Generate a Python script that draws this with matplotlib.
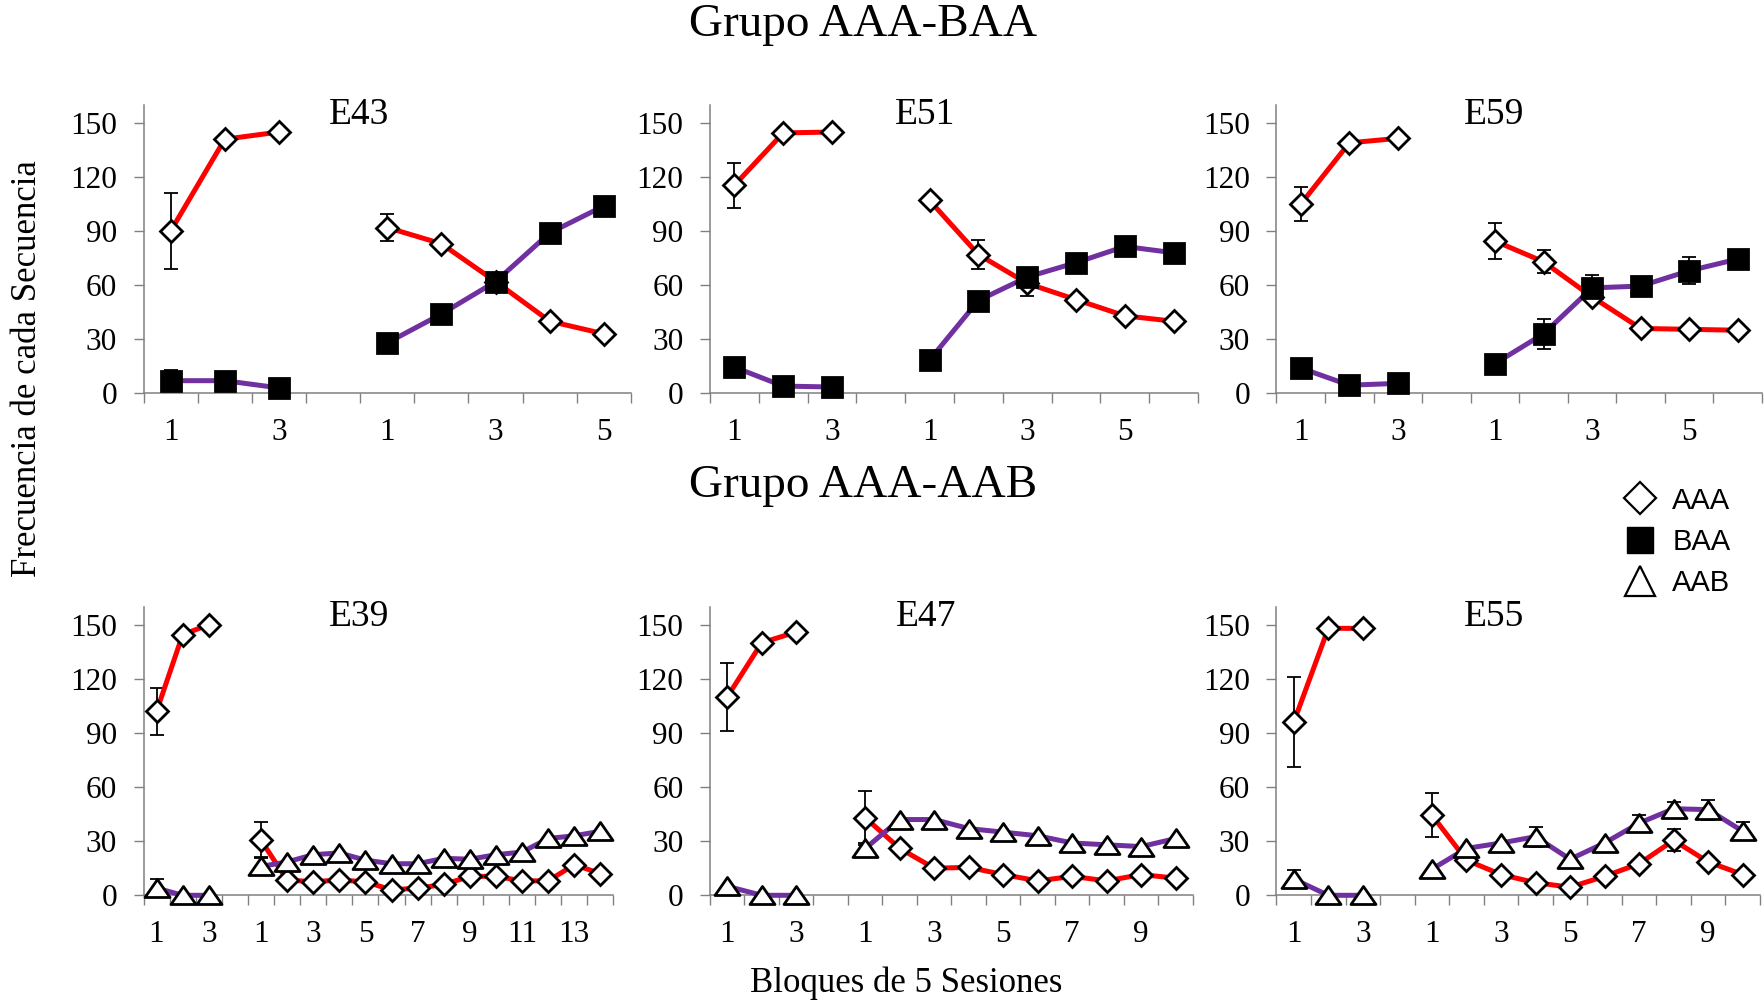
import numpy as np
import matplotlib
matplotlib.use('Agg')
import matplotlib.pyplot as plt
from matplotlib.lines import Line2D
from matplotlib.path import Path

plt.rcParams['font.family'] = ['Liberation Serif', 'DejaVu Serif']

RED = '#ff0000'
PURPLE = '#7030a0'

# ---- Grupo AAA-BAA ----
e43_aaa_base = [90, 141, 145]
e43_aaa_base_err = [21, 0, 0]
e43_baa_base = [7, 7, 3]
e43_baa_base_err = [6, 0, 0]
e43_aaa = [92, 83, 62, 40, 33]
e43_aaa_err = [7.5, 0, 0, 0, 0]
e43_baa = [28, 44, 62, 89, 104]
e43_baa_err = [0, 0, 0, 0, 0]

e51_aaa_base = [115.5, 144.5, 145]
e51_aaa_base_err = [12.5, 0, 0]
e51_baa_base = [14.5, 4, 3.5]
e51_baa_base_err = [0, 0, 0]
e51_aaa = [107, 77, 61, 52, 43, 40]
e51_aaa_err = [0, 8, 7, 0, 0, 0]
e51_baa = [18.5, 51.5, 64.5, 72.5, 81.5, 78]
e51_baa_err = [0, 0, 0, 0, 0, 0]

e59_aaa_base = [105, 139, 141.5]
e59_aaa_base_err = [9.5, 0, 0]
e59_baa_base = [14, 4.5, 5.5]
e59_baa_base_err = [0, 0, 0]
e59_aaa = [84.5, 73, 53.5, 36, 35.5, 35]
e59_aaa_err = [10, 6.5, 0, 0, 0, 0]
e59_baa = [16.5, 33, 58.5, 59.5, 68, 74.5]
e59_baa_err = [0, 8.5, 7, 0, 7.5, 0]

# ---- Grupo AAA-AAB ----
e39_aaa_base = [102, 144.5, 150]
e39_aaa_base_err = [13, 0, 0]
e39_aab_base = [4, 0, 0]
e39_aab_base_err = [5, 0, 0]
e39_aaa = [30.5, 8.5, 7.5, 8.5, 7.5, 3, 4, 6, 10.5, 10.5, 8, 8, 17, 12]
e39_aaa_err = [10, 0, 0, 0, 0, 0, 0, 0, 0, 0, 0, 0, 0, 0]
e39_aab = [16, 18.5, 22.5, 23.5, 19.5, 17.5, 17.5, 20.5, 20, 22.5, 24, 31.5, 33, 35.5]
e39_aab_err = [5, 0, 0, 0, 0, 0, 0, 0, 0, 0, 0, 0, 0, 0]

e47_aaa_base = [110, 140, 146]
e47_aaa_base_err = [19, 0, 0]
e47_aab_base = [5, 0, 0]
e47_aab_base_err = [0, 0, 0]
e47_aaa = [43, 26, 15, 15.5, 11.5, 8, 10.5, 8, 11.5, 9.5]
e47_aaa_err = [15, 0, 0, 0, 0, 0, 0, 0, 0, 0]
e47_aab = [26, 42, 42, 37, 35, 33, 29, 28, 27, 31.5]
e47_aab_err = [3, 0, 0, 0, 0, 0, 0, 0, 0, 0]

e55_aaa_base = [96, 148, 148]
e55_aaa_base_err = [25, 0, 0]
e55_aab_base = [9, 0, 0]
e55_aab_base_err = [5, 0, 0]
e55_aaa = [44.5, 19.5, 11.5, 7, 4.5, 10.5, 17.5, 30.5, 18.5, 11.5]
e55_aaa_err = [12, 0, 0, 0, 0, 0, 0, 6, 0, 0]
e55_aab = [14.5, 26, 29, 32.5, 20, 29, 40, 48, 47.5, 35.5]
e55_aab_err = [0, 0, 0, 5.5, 0, 0, 4.5, 4, 5.5, 5]

W, H = 1765, 1000
fig = plt.figure(figsize=(W / 100, H / 100), dpi=100)

# wider-than-tall triangle, as in the original
tri = Path([(-1, -0.72), (1, -0.72), (0, 0.72), (-1, -0.72)],
           [Path.MOVETO, Path.LINETO, Path.LINETO, Path.CLOSEPOLY])

STYLE = {
    'AAA': dict(marker='D', ms=11, mfc='white', color=RED),
    'BAA': dict(marker='s', ms=14.5, mfc='black', color=PURPLE),
    'AAB': dict(marker=tri, ms=18, mfc='white', color=PURPLE),
}


def px_axes(left, right, top, bottom):
    return fig.add_axes([left / W, 1 - bottom / H, (right - left) / W, (bottom - top) / H])


def draw_series(ax, x, y, err, kind):
    st = STYLE[kind]
    x = np.asarray(x, float)
    y = np.asarray(y, float)
    err = np.asarray(err, float)
    m = err > 0
    if m.any():
        ax.errorbar(x[m], y[m], yerr=err[m], fmt='none', ecolor='black',
                    elinewidth=1.3, capsize=4.7, capthick=1.3, zorder=2, clip_on=False)
    ax.plot(x, y, color=st['color'], lw=3.6, zorder=3, clip_on=False,
            solid_capstyle='round', solid_joinstyle='round')
    ax.plot(x, y, ls='none', marker=st['marker'], ms=st['ms'], mfc=st['mfc'],
            mec='black', mew=2.0, zorder=4, clip_on=False)


def panel(rect, name, title_xy, series):
    ax = px_axes(*rect)
    n_phase = len(series[0][3])
    n = 4 + n_phase
    base_x = [1, 2, 3]
    phase_x = list(range(5, 5 + n_phase))
    for kind, bv, be, pv, pe in series:
        draw_series(ax, base_x, bv, be, kind)
        draw_series(ax, phase_x, pv, pe, kind)

    ax.set_xlim(0.5, n + 0.5)
    ax.set_ylim(0, 160)
    ax.set_yticks([0, 30, 60, 90, 120, 150])
    ax.set_xticks(np.arange(0.5, n + 1, 1))
    ax.set_xticklabels([])
    lab_pos = [1, 3] + phase_x[::2]
    lab_txt = ['1', '3'] + [str(i) for i in range(1, n_phase + 1, 2)]
    ax.set_xticks(lab_pos, lab_txt, minor=True)
    ax.tick_params(axis='x', which='major', direction='out', length=7, width=1, color='#808080')
    ax.tick_params(axis='x', which='minor', length=0, pad=18, labelsize=22.5)
    ax.tick_params(axis='y', direction='out', length=7, width=1, color='#808080', pad=12,
                   labelsize=22.5)
    for s in ['top', 'right']:
        ax.spines[s].set_visible(False)
    for s in ['left', 'bottom']:
        ax.spines[s].set_color('#808080')
        ax.spines[s].set_linewidth(1.1)
    ax.patch.set_alpha(0)
    fig.text(title_xy[0] / W, 1 - title_xy[1] / H, name, fontsize=27,
             ha='center', va='center')
    return ax


panel((143.5, 631, 105, 393.3), 'E43', (359, 115), [
    ('AAA', e43_aaa_base, e43_aaa_base_err, e43_aaa, e43_aaa_err),
    ('BAA', e43_baa_base, e43_baa_base_err, e43_baa, e43_baa_err),
])
panel((710, 1198, 105, 393.3), 'E51', (925, 115), [
    ('AAA', e51_aaa_base, e51_aaa_base_err, e51_aaa, e51_aaa_err),
    ('BAA', e51_baa_base, e51_baa_base_err, e51_baa, e51_baa_err),
])
panel((1276.5, 1762, 105, 393.3), 'E59', (1494, 115), [
    ('AAA', e59_aaa_base, e59_aaa_base_err, e59_aaa, e59_aaa_err),
    ('BAA', e59_baa_base, e59_baa_base_err, e59_baa, e59_baa_err),
])
panel((143.5, 613.5, 606.7, 895.3), 'E39', (359, 617), [
    ('AAA', e39_aaa_base, e39_aaa_base_err, e39_aaa, e39_aaa_err),
    ('AAB', e39_aab_base, e39_aab_base_err, e39_aab, e39_aab_err),
])
panel((710, 1193, 606.7, 895.3), 'E47', (926, 617), [
    ('AAA', e47_aaa_base, e47_aaa_base_err, e47_aaa, e47_aaa_err),
    ('AAB', e47_aab_base, e47_aab_base_err, e47_aab, e47_aab_err),
])
panel((1276.5, 1760, 606.7, 895.3), 'E55', (1494, 617), [
    ('AAA', e55_aaa_base, e55_aaa_base_err, e55_aaa, e55_aaa_err),
    ('AAB', e55_aab_base, e55_aab_base_err, e55_aab, e55_aab_err),
])

fig.text(863 / W, 1 - 25 / H, 'Grupo AAA-BAA', fontsize=34, ha='center', va='center')
fig.text(863 / W, 1 - 486 / H, 'Grupo AAA-AAB', fontsize=34, ha='center', va='center')
fig.text(28 / W, 1 - 369 / H, 'Frecuencia de cada Secuencia', fontsize=25,
         rotation=90, ha='center', va='center')
fig.text(906 / W, 1 - 983 / H, 'Bloques de 5 Sesiones', fontsize=25, ha='center', va='center')

handles = [
    Line2D([], [], ls='none', marker='D', ms=16, mfc='white', mec='black', mew=1.6),
    Line2D([], [], ls='none', marker='s', ms=18.5, mfc='black', mec='black'),
    Line2D([], [], ls='none', marker='^', ms=22, mfc='white', mec='black', mew=1.6),
]
fig.legend(handles, ['AAA', 'BAA', 'AAB'], loc='upper left',
           bbox_to_anchor=(1608 / W, 1 - 472 / H), frameon=False,
           prop={'family': 'Liberation Sans', 'size': 21},
           handlelength=1.2, handletextpad=0.5, labelspacing=0.45, borderpad=0)

fig.savefig('out.png', dpi=100)
